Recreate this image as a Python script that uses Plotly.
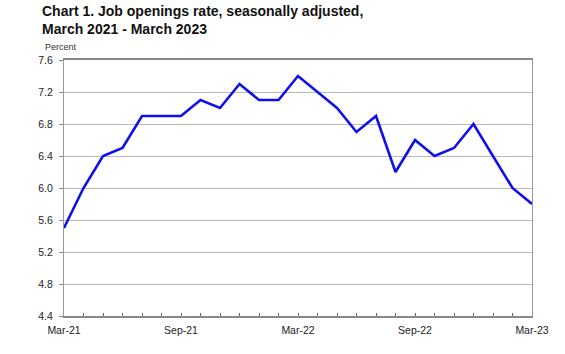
import plotly.graph_objects as go

months = ["Mar-21","Apr-21","May-21","Jun-21","Jul-21","Aug-21","Sep-21","Oct-21","Nov-21","Dec-21",
          "Jan-22","Feb-22","Mar-22","Apr-22","May-22","Jun-22","Jul-22","Aug-22","Sep-22","Oct-22",
          "Nov-22","Dec-22","Jan-23","Feb-23","Mar-23"]
rate = [5.5, 6.0, 6.4, 6.5, 6.9, 6.9, 6.9, 7.1, 7.0, 7.3,
        7.1, 7.1, 7.4, 7.2, 7.0, 6.7, 6.9, 6.2, 6.6, 6.4,
        6.5, 6.8, 6.4, 6.0, 5.8]
labeled = ["Mar-21", "Sep-21", "Mar-22", "Sep-22", "Mar-23"]
y_ticks = [4.4, 4.8, 5.2, 5.6, 6.0, 6.4, 6.8, 7.2, 7.6]

idx = list(range(len(months)))
ticktext = [m if m in labeled else "" for m in months]

fig = go.Figure()
fig.add_trace(go.Scatter(x=idx, y=rate, mode="lines",
                         line=dict(color="#1010e8", width=2.6)))

fig.update_layout(
    width=565, height=354,
    margin=dict(l=64, r=33, t=60, b=38),
    paper_bgcolor="white", plot_bgcolor="white",
    showlegend=False,
    font=dict(family="Liberation Sans, Arial, sans-serif", color="#222"),
    xaxis=dict(range=[0, len(months)-1], tickvals=idx, ticktext=ticktext,
               ticks="inside", ticklen=3, tickcolor="#666", showgrid=False,
               showline=True, linecolor="#888", linewidth=1.5, mirror=True,
               tickfont=dict(size=10.5, color="#222"), zeroline=False,
               ticklabelstandoff=4),
    yaxis=dict(range=[4.4, 7.6], tickvals=y_ticks, tickformat=".1f",
               ticks="outside", ticklen=4, tickcolor="#888",
               showgrid=True, gridcolor="#bbbbbb", gridwidth=1,
               showline=True, linecolor="#999", linewidth=1, mirror=True,
               tickfont=dict(size=10.5, color="#222"), zeroline=False,
               ticklabelstandoff=4),
)
fig.add_annotation(text="<b>Chart 1. Job openings rate, seasonally adjusted,<br>March 2021 - March 2023</b>",
                   xref="paper", yref="paper", x=0, y=1, xanchor="left", yanchor="top",
                   xshift=-24, yshift=59, align="left", showarrow=False,
                   font=dict(size=14, color="#111"))
fig.add_annotation(text="Percent", xref="paper", yref="paper", x=0, y=1,
                   xanchor="left", yanchor="bottom", xshift=-21, yshift=6,
                   showarrow=False, font=dict(size=9, color="#333"))

fig.write_html("out.html")
